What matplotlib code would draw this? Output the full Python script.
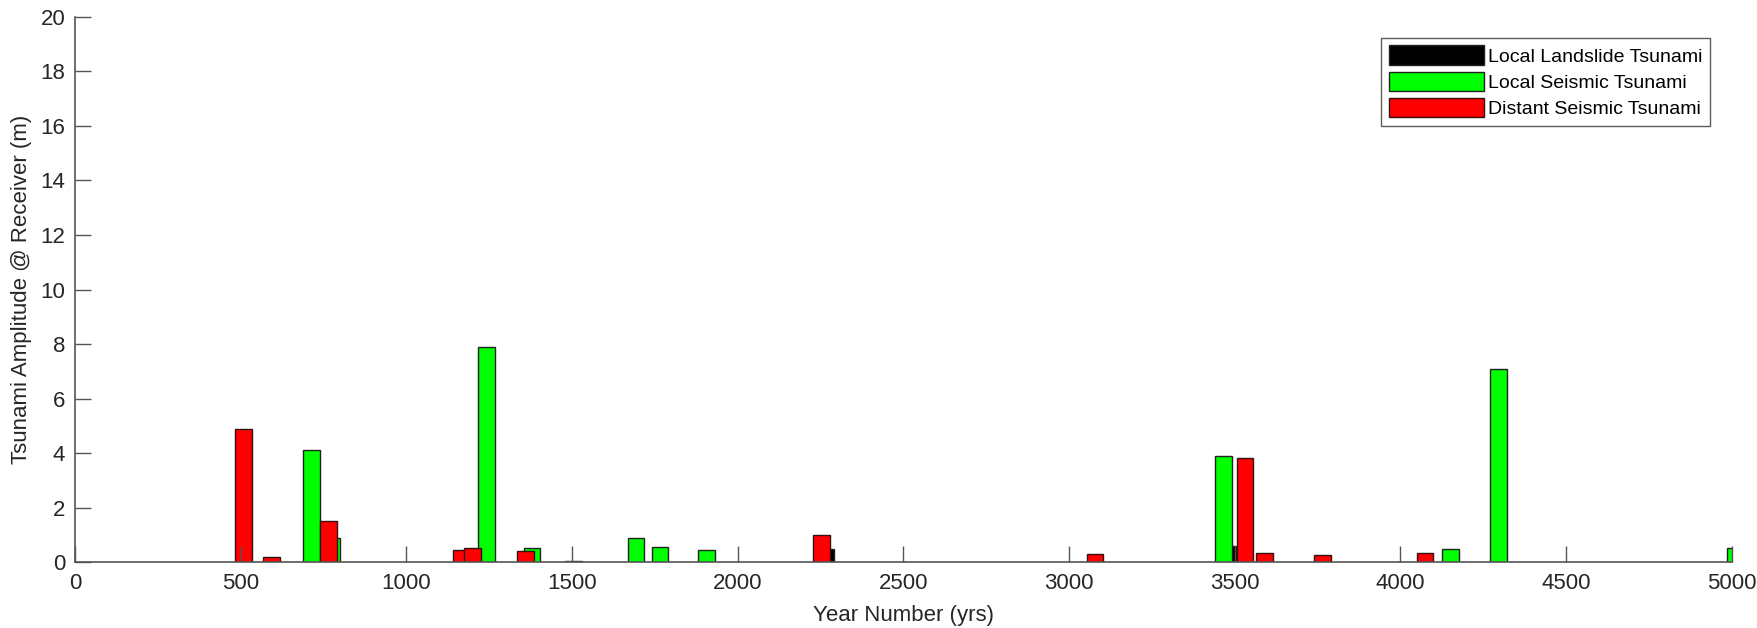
import matplotlib.pyplot as plt

plt.rcParams["font.family"] = ["Liberation Sans", "DejaVu Sans"]

# year / amplitude pairs
landslide_years = [1504, 2266, 3462, 3495]
landslide_amp = [0.05, 0.48, 0.02, 0.6]

local_years = [713, 776, 1241, 1379, 1693, 1766, 1905, 3466, 4151, 4297, 5011]
local_amp = [4.1, 0.9, 7.9, 0.5, 0.9, 0.55, 0.45, 3.9, 0.49, 7.1, 0.5]

distant_years = [508, 593, 765, 1165, 1200, 1360, 2253, 3078, 3531, 3590, 3765, 4074]
distant_amp = [4.9, 0.2, 1.5, 0.45, 0.5, 0.4, 1.0, 0.3, 3.8, 0.34, 0.26, 0.33]

bar_w = 50

fig = plt.figure(figsize=(17.58, 6.28), dpi=100)
ax = fig.add_axes([0.0427, 0.105, 0.9423, 0.868])

ax.bar(landslide_years, landslide_amp, width=bar_w, color="black",
       edgecolor="#222222", linewidth=1, label="Local Landslide Tsunami")
ax.bar(local_years, local_amp, width=bar_w, color="#00ff00",
       edgecolor="#222222", linewidth=1, label="Local Seismic Tsunami")
ax.bar(distant_years, distant_amp, width=bar_w, color="#ff0000",
       edgecolor="#331111", linewidth=1, label="Distant Seismic Tsunami")

ax.set_xlim(0, 5000)
ax.set_ylim(0, 20)
ax.set_xticks(range(0, 5001, 500))
ax.set_yticks(range(0, 21, 2))

for s in ["top", "right"]:
    ax.spines[s].set_visible(False)
for s in ["left", "bottom"]:
    ax.spines[s].set_color("#555555")
    ax.spines[s].set_linewidth(1.2)

ax.tick_params(direction="in", length=11.5, width=1, color="#555555",
               labelsize=16, labelcolor="#262626")
ax.tick_params(axis="x", pad=8)
ax.tick_params(axis="y", pad=7)

ax.set_xlabel("Year Number (yrs)", fontsize=16, color="#262626", labelpad=8)
ax.set_ylabel("Tsunami Amplitude @ Receiver (m)", fontsize=16, color="#262626", labelpad=6)

leg = ax.legend(loc="upper right", bbox_to_anchor=(0.987, 0.962), fontsize=14,
                frameon=True, fancybox=False, edgecolor="#333333",
                handlelength=4.9, handleheight=1.15, borderpad=0.4,
                labelspacing=0.3, handletextpad=0.2, borderaxespad=0)
leg.get_frame().set_linewidth(1)

fig.savefig("out.png", dpi=100)
